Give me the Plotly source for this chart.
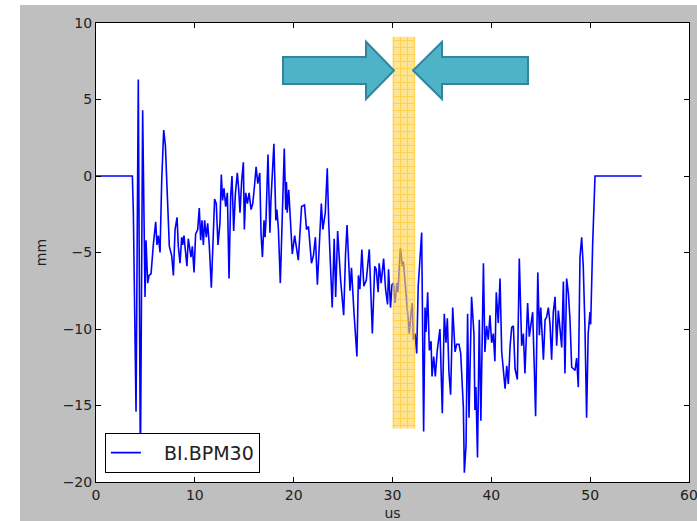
import plotly.graph_objects as go

# ---- data ----
time_us = [
    0, 3.68, 3.78, 4.05, 4.28, 4.49, 4.72, 4.96, 5.06, 5.23,
    5.37, 5.57, 5.8, 6.04, 6.17, 6.31, 6.48, 6.65, 6.85, 7.02,
    7.22, 7.42, 7.66, 7.83, 8.0, 8.2, 8.33, 8.5, 8.67, 8.77,
    8.9, 9.07, 9.2, 9.34, 9.48, 9.61, 9.75, 9.92, 10.08, 10.29,
    10.45, 10.59, 10.72, 10.86, 10.99, 11.16, 11.3, 11.46, 11.67, 11.84,
    12.0, 12.17, 12.34, 12.54, 12.68, 12.81, 12.95, 13.12, 13.29, 13.46,
    13.63, 13.76, 13.93, 14.1, 14.3, 14.44, 14.57, 14.74, 14.91, 15.01,
    15.15, 15.32, 15.49, 15.69, 15.86, 16.03, 16.2, 16.37, 16.57, 16.7,
    16.84, 17.0, 17.1, 17.2, 17.4, 17.6, 17.7, 18.0, 18.2, 18.3,
    18.45, 18.65, 18.85, 19.05, 19.2, 19.27, 19.35, 19.5, 19.86, 20.1,
    20.47, 20.8, 21.1, 21.3, 21.5, 21.8, 22.0, 22.2, 22.4, 22.8,
    22.95, 23.2, 23.4, 23.55, 23.9, 24.1, 24.25, 24.45, 24.75, 25.06,
    25.25, 25.4, 25.7, 25.85, 26.1, 26.4, 26.55, 26.7, 26.9, 27.1,
    27.35, 27.65, 27.96, 28.2, 28.35, 28.55, 28.65, 28.85, 29.1, 29.3,
    29.5, 29.6, 29.8, 29.95, 30.1, 30.25, 30.45, 30.55, 30.8, 31.0,
    31.1, 31.3, 31.5, 31.7, 31.85, 32.0, 32.1, 32.28, 32.45, 32.6,
    32.95, 33.15, 33.29, 33.39, 33.56, 33.73, 33.9, 34.0, 34.17, 34.33,
    34.53, 34.8, 35.04, 35.24, 35.41, 35.55, 35.71, 35.88, 36.09, 36.33,
    36.49, 36.73, 36.9, 37.17, 37.27, 37.44, 37.6, 37.74, 38.0, 38.24,
    38.34, 38.44, 38.6, 38.78, 38.94, 39.2, 39.35, 39.52, 39.69, 39.86,
    40.03, 40.2, 40.36, 40.5, 40.7, 40.88, 41.05, 41.22, 41.39, 41.56,
    41.72, 41.9, 42.06, 42.23, 42.4, 42.63, 42.83, 43.07, 43.24, 43.4,
    43.67, 43.84, 44.01, 44.18, 44.35, 44.48, 44.7, 44.86, 45.0, 45.15,
    45.27, 45.44, 45.6, 45.77, 45.94, 46.1, 46.27, 46.45, 46.61, 46.78,
    46.95, 47.12, 47.29, 47.45, 47.62, 47.8, 47.96, 48.13, 48.3, 48.47,
    48.63, 48.8, 48.97, 49.14, 49.3, 49.47, 49.64, 49.8, 49.98, 50.05,
    50.25, 50.49, 55.21,
]
pos_mm = [
    0, 0, -2.4, -15.4, 6.3, -19.4, 4.3, -7.9, -4.2, -7.0,
    -6.5, -6.4, -4.5, -3.0, -4.5, -3.9, -5.0, -0.3, 3.0, 2.0,
    -1.3, -4.6, -5.2, -6.5, -3.5, -2.7, -4.6, -5.7, -4.0, -4.5,
    -3.9, -5.3, -5.9, -4.1, -4.6, -5.3, -4.6, -6.3, -3.8, -3.5,
    -2.1, -4.2, -2.9, -4.5, -2.9, -4.0, -3.1, -4.5, -7.3, -4.6,
    -1.5, -1.8, -4.5, -3.1, 0.1, -1.6, -0.8, -2.0, -1.1, -6.7,
    -1.3, 0.0, -3.6, -1.2, 0.2, -0.9, -2.4, -0.3, 0.9, -3.5,
    -1.1, -1.8, -1.1, -2.2, -1.8, -0.7, 0.6, -0.5, 0.2, -3.8,
    -5.3, -2.9, -4.0, -2.9, 1.4, -3.7, -1.6, 2.1, -2.9, -2.2,
    -3.4, -7.0, -2.4, 1.8, -2.2, -0.4, -2.4, -0.9, -5.1, -3.9,
    -5.5, -2.0, -1.9, -3.5, -3.3, -5.7, -5.2, -4.0, -7.1, -1.8,
    -3.5, -2.4, 0.5, -3.1, -8.6, -4.1, -7.9, -3.6, -6.8, -9.1,
    -5.1, -3.2, -7.5, -6.0, -8.9, -11.8, -6.5, -7.4, -4.8, -7.2,
    -6.8, -4.8, -10.3, -5.9, -6.1, -7.6, -5.7, -7.0, -5.4, -7.4,
    -8.4, -6.1, -8.6, -7.1, -7.0, -8.3, -7.0, -7.6, -4.7, -5.9,
    -5.6, -7.0, -8.9, -10.3, -9.1, -8.3, -10.7, -10.3, -11.6, -7.2,
    -3.7, -16.7, -8.6, -10.2, -7.6, -11.4, -10.8, -13.1, -11.8, -13.1,
    -11.4, -10.0, -15.5, -9.0, -10.9, -9.3, -12.8, -14.3, -8.6, -11.5,
    -11.0, -11.0, -11.6, -15.1, -19.4, -17.6, -9.0, -15.8, -7.9, -10.3,
    -15.3, -13.8, -18.4, -9.4, -16.0, -5.7, -11.5, -9.8, -10.7, -9.1,
    -10.9, -10.3, -12.1, -7.6, -9.6, -6.7, -11.5, -12.6, -13.9, -12.4,
    -13.6, -11.1, -9.9, -9.8, -12.6, -13.3, -5.4, -11.1, -10.3, -12.9,
    -8.3, -10.5, -9.6, -8.9, -12.6, -15.7, -6.3, -10.4, -8.6, -11.0,
    -12.0, -9.4, -9.2, -8.6, -9.7, -12.0, -8.9, -7.9, -11.1, -8.8,
    -9.8, -11.2, -6.9, -12.9, -6.7, -7.7, -9.4, -12.5, -12.6, -12.7,
    -11.9, -13.8, -5.3, -4.0, -5.9, -9.8, -15.8, -10.3, -8.9, -9.7,
    -4.5, 0.0, 0.0,
]
series_name = "BI.BPM30"

x_ticks = [0, 10, 20, 30, 40, 50, 60]
y_ticks = [10, 5, 0, -5, -10, -15, -20]

# highlighted window (us, mm)
band_x = [30.0, 32.3]
band_y = [-16.5, 9.1]

# ---- styling / annotation geometry ----
ARROW_Y = 6.9
BODY_HALF = 0.88
HEAD_HALF = 1.87
LEFT_ARROW = (18.92, 27.32, 30.15)   # tail, head base, tip
RIGHT_ARROW = (43.71, 35.01, 32.08)  # tail, head base, tip


def arrow_path(tail, base, tip):
    pts = [
        (tail, ARROW_Y - BODY_HALF), (base, ARROW_Y - BODY_HALF),
        (base, ARROW_Y - HEAD_HALF), (tip, ARROW_Y),
        (base, ARROW_Y + HEAD_HALF), (base, ARROW_Y + BODY_HALF),
        (tail, ARROW_Y + BODY_HALF),
    ]
    return "M " + " L ".join(f"{x},{y}" for x, y in pts) + " Z"


fig = go.Figure()
fig.add_trace(go.Scatter(
    x=time_us, y=pos_mm, mode="lines",
    name="\u00a0\u00a0\u00a0" + series_name,
    line=dict(color="#0000ff", width=1.6),
))
fig.add_trace(go.Scatter(
    x=[band_x[0], band_x[1], band_x[1], band_x[0], band_x[0]],
    y=[band_y[0], band_y[0], band_y[1], band_y[1], band_y[0]],
    mode="none", fill="toself",
    fillcolor="rgba(255,205,60,0.65)",
    fillpattern=dict(shape="+", fgcolor="rgba(255,185,0,0.9)",
                     bgcolor="rgba(255,212,80,0.62)", size=7, solidity=0.3),
    showlegend=False, hoverinfo="skip",
))

shapes = []
for tail, base, tip in (LEFT_ARROW, RIGHT_ARROW):
    shapes.append(dict(type="path", xref="x", yref="y",
                       path=arrow_path(tail, base, tip),
                       fillcolor="#4fb3c7", line=dict(color="#31859c", width=2)))
# white strips of the outer image frame (left and top)
shapes.append(dict(type="rect", xref="paper", yref="paper",
                   xsizemode="pixel", ysizemode="pixel", xanchor=0, yanchor=0,
                   x0=-97, x1=-76, y0=-40, y1=483,
                   fillcolor="white", line=dict(width=0), layer="below"))
shapes.append(dict(type="rect", xref="paper", yref="paper",
                   xsizemode="pixel", ysizemode="pixel", xanchor=0, yanchor=1,
                   x0=-97, x1=610, y0=18, y1=24,
                   fillcolor="white", line=dict(width=0), layer="below"))

axis_common = dict(
    showgrid=False, zeroline=False, showline=True, linecolor="black",
    linewidth=1, mirror="allticks", ticks="inside", ticklen=5,
    tickcolor="black", automargin=False, ticklabeloverflow="allow",
    tickfont=dict(family="DejaVu Sans", size=14, color="#222"),
)

fig.update_layout(
    width=697, height=521,
    margin=dict(l=96, r=8, t=23, b=39, autoexpand=False),
    paper_bgcolor="#bfbfbf", plot_bgcolor="white",
    font=dict(family="DejaVu Sans", color="#222"),
    shapes=shapes,
    xaxis=dict(range=[0, 60], tickvals=x_ticks,
               title=dict(text="us", font=dict(size=14), standoff=13),
               **axis_common),
    yaxis=dict(range=[-20, 10], tickvals=y_ticks,
               title=dict(text="mm", font=dict(size=14), standoff=12),
               **axis_common),
    legend=dict(x=0.015, y=0.02, xanchor="left", yanchor="bottom",
                bgcolor="white", bordercolor="black", borderwidth=1,
                font=dict(family="DejaVu Sans", size=19, color="#222")),
    showlegend=True,
)

fig.write_html("out.html")
